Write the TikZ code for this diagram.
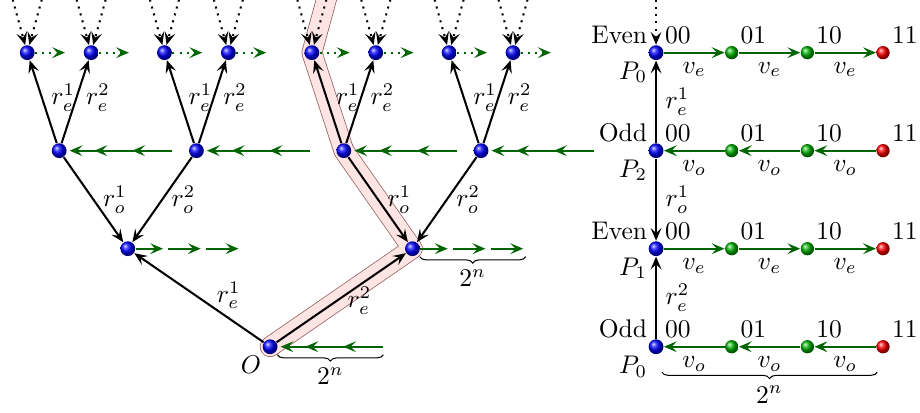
\documentclass[tikz,border=0pt]{standalone}
\usepackage{amsmath,amssymb}
\usepackage{tikz}
\usetikzlibrary{arrows.meta,calc,backgrounds,decorations.pathreplacing}
\definecolor{pathgreen}{RGB}{0,100,0}
\definecolor{bandfill}{RGB}{255,228,228}
\definecolor{bandline}{RGB}{150,95,95}
\tikzset{
    ball/.style={circle, shading=ball, ball color=#1, inner sep=0pt,
                 minimum size=5.8pt},
    sball/.style={ball=#1, minimum size=5.2pt},
}

\begin{document}
\begin{tikzpicture}[
    arr/.style={-{Stealth[length=5pt,width=4.2pt,inset=2pt]}, thick},
    garr/.style={-{Stealth[length=5pt,width=4.2pt,inset=2pt]}, thick, pathgreen, text=black},
    band/.style={line width=0.3pt, draw=bandline, double=bandfill,
                 double distance=7.5pt, line join=round, line cap=round},
    curly/.style={decorate, decoration={brace, mirror, amplitude=2.5pt}, thin},
]
    \useasboundingbox (0,0) rectangle (12.67,5.675);

    % tree
    \node[ball=blue] (root) at (3.72,0.9) {};
    \node[anchor=north east] (rootname) at (root.center) {$O$};
    \node[ball=blue] (ea) at (1.76,2.25) {};
    \node[ball=blue] (eb) at (5.68,2.25) {};
    \node[ball=blue] (oa) at (0.815,3.6) {};
    \node[ball=blue] (ob) at (2.705,3.6) {};
    \node[ball=blue] (oc) at (4.735,3.6) {};
    \node[ball=blue] (od) at (6.625,3.6) {};
    \node[ball=blue] (la) at (0.375,4.95) {};
    \node[ball=blue] (lb) at (1.255,4.95) {};
    \node[ball=blue] (lc) at (2.265,4.95) {};
    \node[ball=blue] (ld) at (3.145,4.95) {};
    \node[ball=blue] (le) at (4.295,4.95) {};
    \node[ball=blue] (lf) at (5.175,4.95) {};
    \node[ball=blue] (lg) at (6.185,4.95) {};
    \node[ball=blue] (lh) at (7.065,4.95) {};

    \coordinate (bandtop) at (4.555,5.9);
    \begin{scope}[on background layer]
        \clip (0,0) rectangle (12.67,5.675);
        \draw[band] (root.center) -- (eb.center) -- (oc.center) -- (le.center) -- (bandtop);
    \end{scope}

    \draw[arr] (root) -- node[pos=0.27, above] {$r_e^1$} (ea);
    \draw[arr] (root) -- node[pos=0.64, below=-3pt] {$r_e^2$} (eb);
    \draw[arr] (oa) -- node[right] {$r_o^1$} (ea);
    \draw[arr] (ob) -- node[right] {$r_o^2$} (ea);
    \draw[arr] (oc) -- node[right] {$r_o^1$} (eb);
    \draw[arr] (od) -- node[right] {$r_o^2$} (eb);
    \foreach \p/\a/\b in {oa/la/lb, ob/lc/ld, oc/le/lf, od/lg/lh} {
        \draw[arr] (\p) -- node[pos=0.55, right] {$r_e^1$} (\a);
        \draw[arr] (\p) -- node[pos=0.55, right] {$r_e^2$} (\b);
    }

    % dotted continuation above the last level
    \foreach \n in {la,lb,lc,ld,le,lf,lg,lh} {
        \coordinate (\n-l) at ($(\n.center)+(-0.2,0.73)$);
        \coordinate (\n-r) at ($(\n.center)+(0.2,0.73)$);
        \coordinate (\n-g) at ($(\n.center)+(0.52,0)$);
        \draw[arr, dotted] (\n-l) -- (\n);
        \draw[arr, dotted] (\n-r) -- (\n);
        \draw[garr, dotted] (\n) -- (\n-g);
    }

    % counters along each level
    \foreach \n in {ea,eb} {
        \draw[garr, shorten >=1pt] (\n) -- ([xshift=5.2mm]\n.center);
        \draw[garr, shorten >=1pt, shorten <=1pt] ([xshift=5.2mm]\n.center) -- ([xshift=10.4mm]\n.center);
        \draw[garr, shorten >=1pt, shorten <=1pt] ([xshift=10.4mm]\n.center) -- ([xshift=15.6mm]\n.center);
    }
    \foreach \n in {root,oa,ob,oc,od} {
        \draw[garr, shorten >=1pt] ([xshift=5.2mm]\n.center) -- (\n);
        \draw[garr, shorten >=-1pt] ([xshift=10.4mm]\n.center) -- ([xshift=5.2mm]\n.center);
        \draw[garr, shorten >=-1pt] ([xshift=15.6mm]\n.center) -- ([xshift=10.4mm]\n.center);
    }
    \draw[curly] ([xshift=1mm,yshift=-1.1mm]root.center) -- ([xshift=15.6mm,yshift=-1.1mm]root.center)
        node[midway, below=1.5pt] {$2^n$};
    \draw[curly] ([xshift=1mm,yshift=-1.1mm]eb.center) -- ([xshift=15.6mm,yshift=-1.1mm]eb.center)
        node[midway, below=1.5pt] {$2^n$};

    % one path through the levels
    \node[ball=blue] (pa0) at (9.035,4.95) {};
    \node[sball=green!70!black] (pa1) at (10.077,4.95) {};
    \node[sball=green!70!black] (pa2) at (11.119,4.95) {};
    \node[sball=red] (pa3) at (12.161,4.95) {};
    \node[ball=blue] (pb0) at (9.035,3.6) {};
    \node[sball=green!70!black] (pb1) at (10.077,3.6) {};
    \node[sball=green!70!black] (pb2) at (11.119,3.6) {};
    \node[sball=red] (pb3) at (12.161,3.6) {};
    \node[ball=blue] (pc0) at (9.035,2.25) {};
    \node[sball=green!70!black] (pc1) at (10.077,2.25) {};
    \node[sball=green!70!black] (pc2) at (11.119,2.25) {};
    \node[sball=red] (pc3) at (12.161,2.25) {};
    \node[ball=blue] (pd0) at (9.035,0.9) {};
    \node[sball=green!70!black] (pd1) at (10.077,0.9) {};
    \node[sball=green!70!black] (pd2) at (11.119,0.9) {};
    \node[sball=red] (pd3) at (12.161,0.9) {};

    \foreach \r/\kind/\who in {pa/Even/P_0, pb/Odd/P_2, pc/Even/P_1, pd/Odd/P_0} {
        \node[anchor=south east] (\r-kind) at (\r0.center) {\kind};
        \node[anchor=north east] (\r-who) at (\r0.center) {$\who$};
        \foreach \c/\bits in {0/00, 1/01, 2/10, 3/11}
            \node[anchor=south west] (\r\c-bits) at (\r\c.center) {\bits};
    }

    \foreach \r in {pa,pc} {
        \draw[garr] (\r0) -- node[below] {$v_e$} (\r1);
        \draw[garr] (\r1) -- node[below] {$v_e$} (\r2);
        \draw[garr] (\r2) -- node[below] {$v_e$} (\r3);
    }
    \foreach \r in {pb,pd} {
        \draw[garr] (\r1) -- node[below] {$v_o$} (\r0);
        \draw[garr] (\r2) -- node[below] {$v_o$} (\r1);
        \draw[garr] (\r3) -- node[below] {$v_o$} (\r2);
    }

    \coordinate (ptop) at (9.035,5.675);
    \draw[arr, dotted] (ptop) -- (pa0);
    \draw[arr] (pb0) -- node[right] {$r_e^1$} (pa0);
    \draw[arr] (pb0) -- node[right] {$r_o^1$} (pc0);
    \draw[arr] (pd0) -- node[right] {$r_e^2$} (pc0);
    \draw[curly] ([xshift=0.8mm,yshift=-3.5mm]pd0.center) -- ([xshift=-0.8mm,yshift=-3.5mm]pd3.center)
        node[midway, below=2pt] {$2^n$};
\end{tikzpicture}
\end{document}
